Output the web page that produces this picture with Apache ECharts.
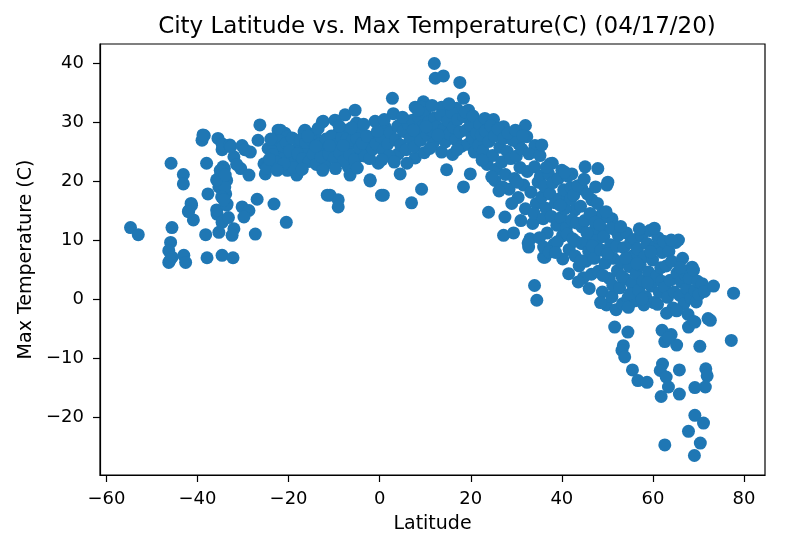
<!DOCTYPE html>
<html>
<head>
<meta charset="utf-8">
<script src="https://cdn.jsdelivr.net/npm/echarts@6/dist/echarts.min.js"></script>
<style>
html,body{margin:0;padding:0;background:#fff;}
#chart{width:793px;height:545px;}
</style>
</head>
<body>
<div id="chart"></div>
<script>
// Each entry: [latitude, max temperature (C)]
var southMid = [[-54.7,12.1],[-53,10.9],[-45.8,23.0],[-43.1,21.1],[-43.1,19.5],[-45.6,12.1],[-45.9,9.6],[-46.3,8.2],[-45.6,7.1],[-43,7.4],[-42.6,6.2],[-46.3,6.2],[-46.0,6.6],[-41.4,16.2],[-41.9,15],[-40.9,13.4],[-41.3,15.9],[-42,14.8],[-39,26.9],[-38.5,27.7],[-38.8,27.8],[-38,23],[-37.7,17.8],[-38.2,10.9],[-37.9,7.0],[-35.5,27.2],[-34.6,26.3],[-34.6,25.3],[-34.4,26.1],[-32.9,26.1],[-34.1,22.1],[-34.9,20.4],[-33.6,20.1],[-35.3,19],[-33.8,17.8],[-33.5,16.1],[-35.7,14.4],[-34.6,13.0],[-35.3,11.3],[-32,11.9],[-32.4,10.8],[-34.6,7.4],[-32.2,7.0],[-32,24.1],[-32.7,25.8],[-30.2,26.0],[-28.4,24.9],[-30.5,22.1],[-28.7,21],[-30.2,15.6],[-28.7,15.0],[-29.8,13.9],[-26.9,16.9],[-27.3,11.0],[-34.4,22.4],[-35.1,20.7],[-34,19],[-34.7,17.3],[-35.8,15.1],[-33.6,15.9],[-35.8,20.2],[-26.3,29.5],[-26.7,26.9],[-25.4,22.9],[-25.1,21.2],[-24.7,22.4],[-24.5,25.5],[-24.8,22.1],[-23.2,16.1],[-20.5,13.0],[-35.0,21.8],[-33.9,21.0],[-34.2,16.8],[-33.2,13.8],[-31.4,22.8],[-29.6,25.3]];

var southTropics = [[-22.3,28.6],[-20.8,28.1],[-23,25.8],[-21.5,24.7],[-20.8,23],[-20.1,21.9],[-18.2,21],[-19.3,24.1],[-16.4,28.6],[-14.2,28.1],[-17.9,25.8],[-15.7,25],[-12.7,25.2],[-12,23],[-12.4,30.1],[-9.8,30.3],[-7.6,31.2],[-5.4,32],[-5.1,29.8],[-9.1,28.1],[-7.6,28.6],[-10.5,25.8],[-6.9,25.8],[-4,28.1],[-1.8,26.9],[-1,30.1],[-2.5,25.2],[-4.7,24.1],[-0.3,23],[-6.9,22.4],[-6.5,21],[-2.1,20.2],[0.4,17.6],[-10.9,17.6],[-9.1,16.8],[-9.1,15.6],[-11.5,17.6],[-12,22.9],[-21.8,28.6],[-20.3,27.5],[-16.6,28.3],[-14.4,27.7],[-12.6,30],[-20.3,21.8],[-18.1,21.2],[-23.2,25.8],[-23.5,24.5],[-22.8,23.2],[-22.0,26.8],[-21.2,25.9],[-20.5,26.4],[-19.8,25.1],[-19.2,27.3],[-18.6,23.2],[-18.0,24.6],[-17.4,27.0],[-16.9,23.8],[-16.2,26.5],[-15.5,23.3],[-15.0,26.9],[-14.6,24.5],[-13.9,22.8],[-13.3,26.2],[-12.9,24.1],[-11.8,27.1],[-11.2,24.6],[-10.6,27.6],[-10.0,23.9],[-9.4,26.2],[-8.8,24.7],[-8.3,27.4],[-7.9,23.4],[-7.2,27.1],[-6.6,24.5],[-6.0,26.9],[-5.5,23.6],[-5.0,27.2],[-4.4,25.6],[-3.8,26.4],[-3.2,24.2],[-2.8,27.6],[-2.2,23.8],[-1.5,25.4],[-0.8,26.3],[-19.0,22.3],[-17.0,22.0],[-21.0,22.9],[-23.9,27.1],[-14.0,25.9],[-11.0,26.0],[-8.0,26.0],[-13.5,28.9],[-15.8,27.6],[-8.9,29.3],[-6.2,29.0],[-3.5,29.6],[-24.2,23.7],[-22.5,21.8],[-12.5,21.8],[-9.7,22.1],[-4.9,22.2]];

var equatorBand = [[12.0,39.9],[12.2,37.4],[14.0,37.8],[17.6,36.7],[2.8,34.0],[18.4,34],[9.6,33.4],[7.8,32.5],[9.2,32.5],[13.6,32.5],[16.9,32.3],[19.5,32],[3.0,31.4],[5.6,30.3],[-2.1,20],[0.8,17.6],[4.5,21.2],[7.8,23.9],[9.2,18.6],[7,16.3],[14.7,21.9],[18.4,19],[19.9,21.2],[13.6,24.9],[4.1,24.6],[0.2,27.5],[0.8,25.2],[1.3,29.0],[1.8,26.3],[2.3,28.2],[2.1,24.3],[3.5,27.0],[4.0,29.3],[4.6,26.1],[5.2,28.4],[5.8,25.3],[6.3,29.6],[6.7,27.2],[7.2,30.3],[7.6,25.8],[8.1,28.3],[8.6,30.8],[9.0,26.9],[9.5,29.3],[10.0,31.6],[10.4,27.8],[10.8,30.0],[11.3,28.6],[11.7,26.3],[12.1,30.7],[12.6,29.2],[13.0,27.4],[13.5,31.1],[14.0,28.7],[14.4,26.6],[14.9,30.2],[15.3,28.0],[15.8,31.6],[16.2,29.1],[16.7,27.0],[17.1,30.4],[17.6,28.3],[18.0,25.9],[18.5,30.9],[19.0,28.6],[19.4,26.2],[19.9,29.5],[20.3,27.3],[20.8,24.9],[21.3,28.1],[21.7,26.0],[0.5,23.6],[3.2,23.2],[6.0,23.0],[9.8,24.8],[11.0,25.5],[16.0,24.5],[17.0,25.3],[15.2,33.1],[11.5,32.8],[8.4,32.0],[18.8,31.7],[20.5,31.0],[10.2,29.2],[12.8,27.8],[5.0,30.8],[7.4,28.6],[1.0,30.4],[-0.5,28.4],[22.0,29.6]];

var northSub = [[23.1,30.6],[25,30.4],[27.2,29.2],[32,29.4],[32.3,27.5],[34.1,26],[30.5,26.3],[25.3,20.1],[23.9,14.7],[27.5,13.9],[27.2,10.8],[32.7,8.8],[36,7.1],[34,2.3],[34.5,-0.2],[22.3,27.8],[22.7,25.1],[23.2,28.5],[23.6,22.8],[24.0,26.7],[24.4,29.3],[24.8,24.3],[25.2,27.6],[25.6,22.0],[26.0,28.8],[26.4,25.7],[26.8,23.2],[27.2,27.2],[27.6,21.1],[28.0,25.0],[28.4,18.6],[28.8,23.8],[29.2,26.9],[29.6,20.4],[30.0,24.2],[30.4,17.2],[30.8,22.3],[31.2,25.4],[31.6,19.3],[32.0,15.3],[32.4,21.6],[32.8,24.6],[33.2,18.1],[33.6,12.8],[34.0,22.4],[34.4,16.2],[34.8,19.8],[35.2,24.3],[28.2,28.1],[29.8,28.6],[31.4,27.7],[27.0,19.0],[29.0,16.2],[31.0,13.3],[33.0,10.2],[32.6,9.5],[33.9,14.5],[30.2,19.8],[26.2,18.3],[24.6,20.7],[22.5,23.5],[29.4,11.2]];

var northMid = [[35.6,26.1],[37.4,22.9],[40,21.8],[42.2,21.2],[45.1,22.4],[47.9,22.1],[50.1,19.8],[49.9,19.3],[44.4,18.7],[46.6,16.8],[42.9,15.1],[48.8,14.4],[51,13.6],[44.4,12.2],[45.9,10.5],[48.8,11.6],[36.3,7.1],[41.5,4.3],[35.3,20.8],[35.6,17.3],[35.9,13.6],[36.2,19.1],[36.5,15.4],[36.8,11.2],[37.1,21.2],[37.4,17.8],[37.7,14.0],[38.0,19.7],[38.3,9.3],[38.6,16.3],[38.9,12.5],[35.1,10.4],[36.0,8.8],[37.2,8.0],[37.9,23.0],[36.6,22.3],[39.2,20.4],[39.5,17.0],[39.8,13.8],[40.1,10.7],[40.4,18.5],[40.7,15.3],[41.0,12.1],[41.3,20.8],[41.6,8.4],[41.9,16.9],[42.2,13.4],[39.0,9.7],[40.6,21.5],[42.0,18.9],[39.6,15.9],[41.2,11.0],[42.4,10.2],[40.2,6.8],[38.6,7.9],[42.6,17.6],[42.9,7.3],[43.2,12.9],[43.5,19.2],[43.8,5.6],[44.1,15.7],[44.4,9.4],[44.7,3.6],[45.0,13.3],[45.3,6.4],[45.6,17.8],[45.9,8.1],[46.2,14.5],[46.5,4.2],[46.8,11.4],[47.1,6.9],[47.4,19.0],[47.7,9.9],[48.0,4.7],[43.6,2.9],[44.9,20.3],[46.0,1.8],[47.3,13.0],[43.0,9.8],[44.2,6.5],[45.5,11.2],[46.7,9.0],[47.8,16.2]];

var northHigh = [[48.3,12.6],[48.6,8.3],[48.9,1.2],[49.2,10.6],[49.5,6.1],[49.8,-1.0],[50.1,13.9],[50.4,3.5],[50.7,9.2],[51.0,0.4],[51.3,6.9],[51.6,11.8],[51.9,-1.8],[52.2,4.8],[49.0,4.0],[50.0,7.7],[51.2,2.3],[48.5,-0.6],[52.0,8.9],[49.7,14.8],[50.9,12.0],[52.4,10.8],[52.7,1.9],[53.0,6.3],[53.3,-0.8],[53.6,8.7],[53.9,3.4],[54.2,11.2],[54.5,0.2],[54.8,5.5],[55.1,9.6],[55.4,2.6],[55.7,7.4],[56.0,-0.3],[56.3,4.3],[52.9,12.3],[54.0,6.9],[55.0,0.9],[55.9,10.1],[53.2,3.8],[54.6,-1.4],[56.6,8.5],[56.9,1.5],[57.2,5.8],[57.5,10.7],[57.8,3.1],[58.1,7.2],[58.4,0.4],[58.7,9.4],[59.0,4.6],[59.3,11.6],[59.6,2.2],[59.9,6.6],[60.2,-0.6],[60.5,8.9],[60.8,3.9],[61.1,10.4],[61.4,1.1],[61.7,5.3],[62.0,7.9],[57.0,11.9],[58.0,-1.0],[59.5,8.0],[60.3,12.0],[61.0,-0.9],[56.5,6.0],[58.8,2.7],[61.9,3.0],[57.6,0.0]];

var northPolar = [[62.3,9.8],[62.6,2.0],[62.9,5.6],[63.2,0.3],[63.5,8.1],[63.8,3.2],[64.1,6.4],[64.4,-1.5],[64.7,1.2],[65.0,9.6],[65.3,4.4],[65.6,10.0],[65.9,0.6],[66.2,2.9],[66.5,6.9],[66.8,-0.8],[67.1,4.1],[67.4,1.8],[67.7,-2.6],[68.0,3.5],[68.3,0.2],[68.6,5.4],[68.9,4.9],[69.2,1.4],[69.5,-0.5],[69.8,3.0],[70.1,0.8],[70.8,2.6],[71.3,1.3],[73.3,2.2],[77.7,1.0],[72.1,-3.3],[68.9,-3.8],[67.8,-4.75],[69.2,-3.9],[72.6,-3.6],[64.0,10.0],[66.0,5.3],[63.0,-2.4],[65.2,-2.0]];

var coldCities = [[51.6,-4.75],[54.5,-5.6],[53.5,-7.9],[53.2,-8.7],[53.8,-9.8],[55.5,-12],[56.7,-13.8],[58.7,-14.1],[62,-5.3],[64,-6],[62.6,-7.2],[65.2,-7.8],[63.4,-6.5],[62.1,-11],[61.6,-12.1],[62.9,-13.2],[63.4,-14.9],[61.8,-16.5],[65.8,-16.1],[65.8,-12],[70.3,-8.0],[77.2,-7.0],[71.6,-11.8],[71.9,-13],[71.5,-14.9],[69.2,-15],[69.2,-19.7],[71.1,-21],[67.8,-22.4],[70.4,-24.4],[69.1,-26.5],[62.6,-24.7]];

var xTicks = [-60,-40,-20,0,20,40,60,80];
var yTicks = [-20,-10,0,10,20,30,40];
var titleText = 'City Latitude vs. Max Temperature(C) (04/17/20)';

var points = [].concat(southMid, southTropics, equatorBand, northSub, northMid, northHigh, northPolar, coldCities);

function fmt(v){ return String(v).replace('-', '\u2212'); }

var font = 'DejaVu Sans';
var chart = echarts.init(document.getElementById('chart'), null, {renderer:'canvas'});
chart.setOption({
  animation: false,
  backgroundColor: '#ffffff',
  title: {
    text: titleText,
    left: 432, top: 11, textAlign: 'center',
    textStyle: {fontFamily: font, fontSize: 23, fontWeight: 'normal', color: '#000'}
  },
  grid: {left: 100, right: 28, top: 44, bottom: 70, show: true, borderColor: '#000', borderWidth: 1.2, backgroundColor: 'transparent'},
  xAxis: {
    type: 'value', min: -61.4, max: 84.6,
    name: 'Latitude', nameLocation: 'middle', nameGap: 40,
    nameTextStyle: {fontFamily: font, fontSize: 19, color: '#000'},
    axisLine: {show: true, onZero: false, lineStyle: {color: '#000', width: 1.2}},
    axisTick: {show: true, length: 7, customValues: xTicks, lineStyle: {color: '#000', width: 1.2}},
    axisLabel: {customValues: xTicks, formatter: fmt, fontFamily: font, fontSize: 18, color: '#000', margin: 15},
    splitLine: {show: false}
  },
  yAxis: {
    type: 'value', min: -29.8, max: 43.2,
    name: 'Max Temperature (C)', nameLocation: 'middle', nameGap: 62, nameRotate: 90,
    nameTextStyle: {fontFamily: font, fontSize: 19, color: '#000'},
    axisLine: {show: true, onZero: false, lineStyle: {color: '#000', width: 1.2}},
    axisTick: {show: true, length: 7, customValues: yTicks, lineStyle: {color: '#000', width: 1.2}},
    axisLabel: {customValues: yTicks, formatter: fmt, fontFamily: font, fontSize: 18, color: '#000', margin: 16},
    splitLine: {show: false}
  },
  series: [{
    type: 'scatter',
    data: points,
    symbol: 'circle',
    symbolSize: 13,
    itemStyle: {color: '#1f77b4', opacity: 1},
    emphasis: {disabled: true}
  }]
});
</script>
</body>
</html>
